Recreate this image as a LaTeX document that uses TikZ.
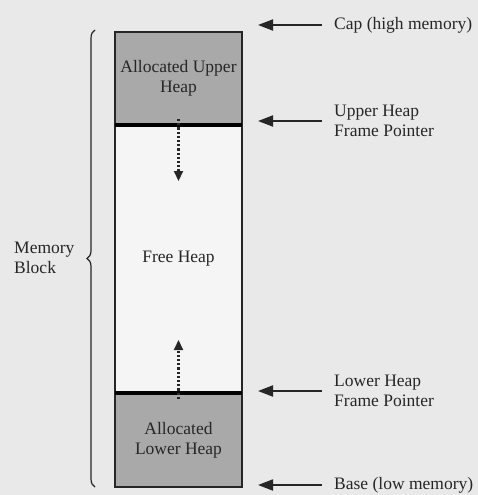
\documentclass[tikz,border=0pt]{standalone}
\usepackage{fontspec}
\setmainfont{Liberation Serif}
\usetikzlibrary{arrows.meta,positioning,calc,decorations.pathreplacing}
\definecolor{pagegray}{HTML}{E9E9E9}
\definecolor{heapgray}{HTML}{A9A9A9}
\definecolor{freewhite}{HTML}{F5F5F5}
\definecolor{inkgray}{HTML}{262626}

\begin{document}
\begin{tikzpicture}[x=1pt, y=-1pt,
    font=\fontsize{17.5}{20}\selectfont, text=inkgray,
    heap/.style={draw=inkgray, line width=1.6pt, minimum width=127pt, inner sep=0pt, outer sep=0pt, align=center},
    divider/.style={line width=3.5pt, black},
    growarrow/.style={line width=2.2pt, dotted, inkgray, -{Triangle[length=10pt,width=9pt]}},
    ptr/.style={line width=1.8pt, inkgray, -{Triangle[length=15pt,width=11pt]}},
    lbl/.style={anchor=west, align=left, inner sep=0pt}]
  \fill[pagegray] (0,0) rectangle (478,495);

  % the memory block, top to bottom
  \node[heap, fill=heapgray, minimum height=93pt] (upper) at (178.5,78.5) {Allocated Upper\\Heap};
  \node[heap, fill=freewhite, minimum height=268pt, below=0pt of upper] (free) {Free Heap};
  \node[heap, fill=heapgray, minimum height=94pt, below=0pt of free] (lower) {Allocated\\Lower Heap};
  \draw[divider] (upper.south west) -- (upper.south east);
  \draw[divider] (lower.north west) -- (lower.north east);

  % heaps grow toward each other
  \coordinate (downtip) at (178.5,181);
  \coordinate (uptip) at (178.5,340);
  \draw[growarrow] ([yshift=6pt]upper.south) -- (downtip);
  \draw[growarrow] ([yshift=-6pt]lower.north) -- (uptip);

  % the whole block
  \draw[line width=1.2pt, inkgray, decorate, decoration={brace, amplitude=8pt}]
    (95,487) -- (95,30);
  \node[lbl] (block) at (14,258) {Memory\\Block};

  % pointers on the right
  \node[lbl] (cap) at (334,25) {Cap (high memory)};
  \node[lbl] (upfp) at (334,121) {Upper Heap\\Frame Pointer};
  \node[lbl] (lowfp) at (334,391) {Lower Heap\\Frame Pointer};
  \node[lbl] (base) at (334,485) {Base (low memory)};
  \coordinate (captip) at (258,25);
  \coordinate (uptip2) at (258,121);
  \coordinate (lowtip) at (258,391);
  \coordinate (basetip) at (258,485);
  \draw[ptr] ([xshift=-12pt]cap.west) -- (captip);
  \draw[ptr] ([xshift=-12pt]upfp.west) -- (uptip2);
  \draw[ptr] ([xshift=-12pt]lowfp.west) -- (lowtip);
  \draw[ptr] ([xshift=-12pt]base.west) -- (basetip);
\end{tikzpicture}
\end{document}
